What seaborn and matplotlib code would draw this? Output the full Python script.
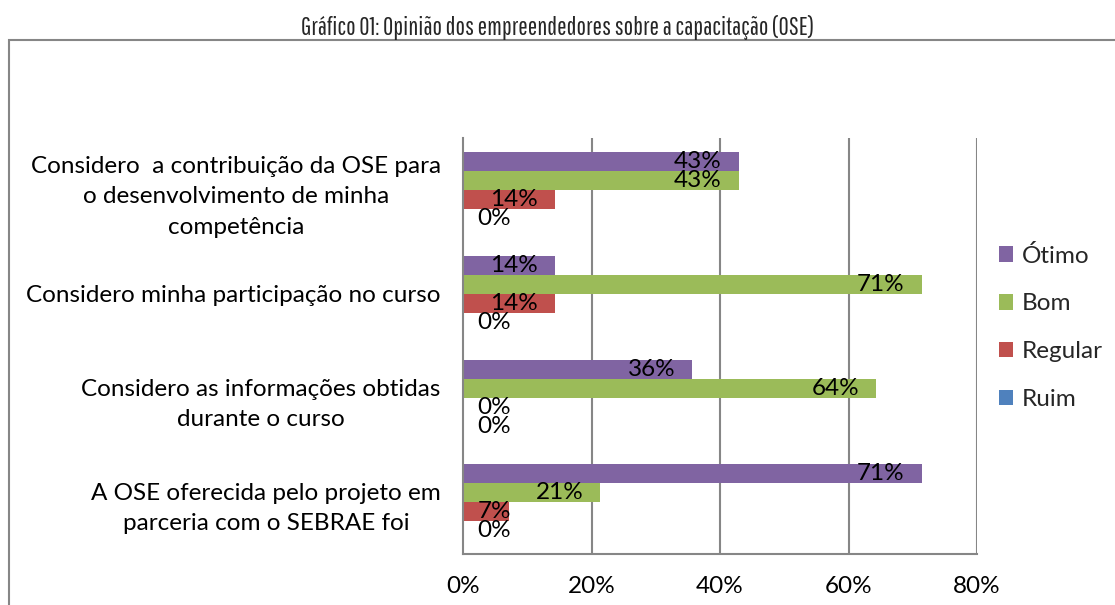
import matplotlib
matplotlib.use("Agg")
import matplotlib.pyplot as plt
import matplotlib.patches as mpatches
import seaborn as sns
import pandas as pd

categories = [
    "Considero  a contribuição da OSE para\no desenvolvimento de minha\ncompetência",
    "Considero minha participação no curso",
    "Considero as informações obtidas\ndurante o curso",
    "A OSE oferecida pelo projeto em\nparceria com o SEBRAE foi",
]
series = ["Ótimo", "Bom", "Regular", "Ruim"]
otimo = [42.9, 14.3, 35.7, 71.4]
bom = [42.9, 71.4, 64.3, 21.4]
regular = [14.3, 14.3, 0.0, 7.1]
ruim = [0.0, 0.0, 0.0, 0.0]
xticks = [0, 20, 40, 60, 80]
xtick_labels = ["0%", "20%", "40%", "60%", "80%"]
title = "Gráfico 01: Opinião dos empreendedores sobre a capacitação (OSE)"
colors = ["#8064A2", "#9BBB59", "#C0504D", "#4F81BD"]

rows = []
for s, vals in zip(series, [otimo, bom, regular, ruim]):
    for c, v in zip(categories, vals):
        rows.append({"cat": c, "serie": s, "val": v})
df = pd.DataFrame(rows)

sns.set_theme(style="white")
plt.rcParams["font.family"] = ["Lato", "DejaVu Sans"]
FS = 17.5

fig = plt.figure(figsize=(11.15, 6.05), dpi=100)
ax = fig.add_axes([463/1115, 1-554/605, (977-463)/1115, (554-138)/605])

sns.barplot(data=df, y="cat", x="val", hue="serie", orient="h",
            order=categories, hue_order=series, palette=colors, saturation=1,
            width=0.73, linewidth=0, ax=ax, errorbar=None)

ax.set_xlim(0, 80)
ax.set_xticks(xticks)
ax.set_xticklabels(xtick_labels)
ax.set_xlabel("")
ax.set_ylabel("")
ax.tick_params(axis="x", length=0, pad=16, labelsize=FS, colors="black")
ax.tick_params(axis="y", length=0, pad=16, labelsize=FS, colors="black")
for lab in ax.get_yticklabels():
    lab.set_multialignment("center")
    lab.set_linespacing(1.55)

ax.grid(False)
for x in xticks[1:]:
    ax.axvline(x, color="#868686", lw=1.5, zorder=0)
for side in ["top", "right"]:
    ax.spines[side].set_visible(False)
for side in ["left", "bottom"]:
    ax.spines[side].set_color("#868686")
    ax.spines[side].set_linewidth(1.5)

# data labels
px_per_unit = (977-463)/80
pad_units = 17/px_per_unit
min_right = 48/px_per_unit
for cont in ax.containers:
    for bar in cont:
        w = bar.get_width()
        y = bar.get_y() + bar.get_height()/2
        xr = max(w - pad_units, min_right)
        ax.text(xr, y, f"{round(w)}%", ha="right", va="center",
                fontsize=FS, color="black")

leg = ax.legend(loc="center left", bbox_to_anchor=(1.0, 0.545), frameon=False,
                handlelength=0.6, handleheight=0.6, handletextpad=0.35,
                labelspacing=1.1, fontsize=FS)

fig.text(0.5, 1-27/605, title, ha="center", va="center", fontsize=18,
         family=["Pathway Gothic One", "Oswald", "Archivo Narrow", "DejaVu Sans"])

frame = mpatches.Rectangle((9/1115, -0.1), 1.2, 1-40/605+0.1, transform=fig.transFigure,
                           fill=False, edgecolor="#868686", lw=1.5)
fig.patches.append(frame)

fig.savefig("out.png", dpi=100, facecolor="white")
